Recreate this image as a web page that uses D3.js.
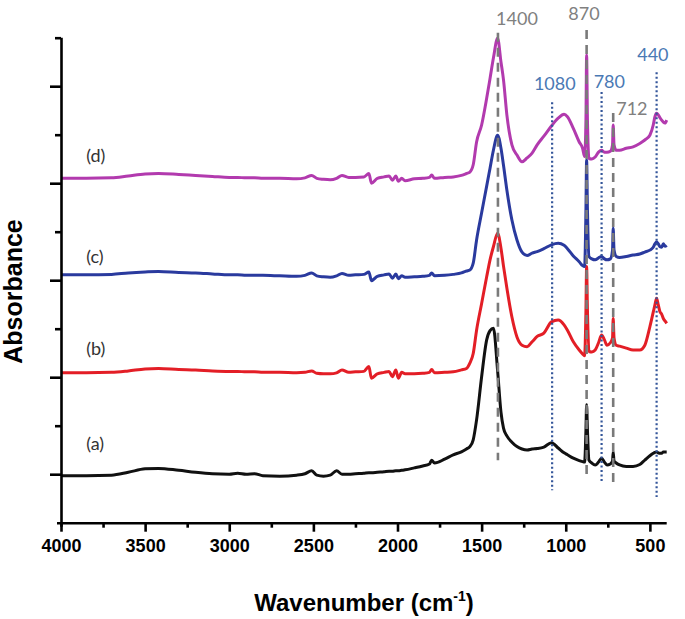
<!DOCTYPE html>
<html>
<head>
<meta charset="utf-8">
<script src="https://cdn.jsdelivr.net/npm/d3@7"></script>
<style>
  html, body { margin: 0; padding: 0; background: #fff; }
  svg { display: block; }
</style>
</head>
<body>
<svg id="chart" width="685" height="619"></svg>
<script>
// ---------------- DATA ----------------
const wavenumbers = [
  4000, 3850, 3700, 3600, 3500, 3420, 3300, 3200, 3100, 3000,
  2950, 2900, 2850, 2800, 2700, 2600, 2550, 2510, 2480, 2440,
  2400, 2362, 2330, 2290, 2250, 2200, 2170, 2155, 2120, 2080,
  2050, 2030, 2010, 1995, 1975, 1955, 1900, 1850, 1810, 1797,
  1780, 1720, 1669, 1620, 1590,
  1570, 1550, 1530, 1500, 1470, 1450, 1430, 1405, 1385, 1370,
  1350, 1320, 1290, 1260, 1230, 1200, 1170, 1130, 1085, 1045,
  1010, 990, 955, 920, 900, 888, 880, 876, 871, 862,
  845, 825, 805, 787, 770, 755, 735, 722, 718, 713,
  700, 680, 640, 600, 560, 530, 500, 480, 470, 460,
  450, 440, 430, 420, 410, 400
];

const absA = [
  0.97, 0.97, 0.98, 1.04, 1.11, 1.12, 1.08, 1.04, 1.01, 1.00,
  1.02, 1.00, 1.01, 0.97, 0.96, 0.98, 1.01, 1.07, 0.98, 0.96,
  0.98, 1.07, 1.00, 1.00, 1.01, 1.02, 1.03, 1.03, 1.04, 1.05,
  1.06, 1.06, 1.07, 1.07, 1.08, 1.09, 1.13, 1.17, 1.21, 1.29,
  1.23, 1.31, 1.40, 1.46, 1.52,
  1.57, 1.71, 2.12, 3.01, 3.77, 3.96, 4.01, 3.13, 2.28, 1.95,
  1.79, 1.66, 1.57, 1.52, 1.50, 1.52, 1.53, 1.56, 1.65, 1.54,
  1.44, 1.40, 1.33, 1.28, 1.26, 1.25, 1.91, 2.43, 1.91, 1.29,
  1.23, 1.19, 1.25, 1.33, 1.25, 1.19, 1.21, 1.27, 1.46, 1.27,
  1.23, 1.19, 1.16, 1.16, 1.20, 1.29, 1.38, 1.43, 1.45, 1.46,
  1.44, 1.43, 1.43, 1.46, 1.46, 1.46
];

const absB = [
  3.09, 3.09, 3.10, 3.13, 3.17, 3.18, 3.16, 3.15, 3.13, 3.12,
  3.12, 3.11, 3.11, 3.10, 3.10, 3.09, 3.10, 3.13, 3.08, 3.07,
  3.07, 3.09, 3.15, 3.10, 3.11, 3.12, 3.22, 2.98, 3.07, 3.10,
  3.12, 3.01, 3.15, 2.98, 3.10, 3.07, 3.07, 3.08, 3.10, 3.16,
  3.09, 3.10, 3.11, 3.15, 3.18,
  3.29, 3.49, 3.97, 4.52, 5.07, 5.42, 5.69, 5.97, 5.66, 5.29,
  4.84, 4.24, 3.83, 3.66, 3.63, 3.73, 3.84, 3.91, 4.14, 4.18,
  4.08, 3.97, 3.73, 3.56, 3.48, 3.44, 4.38, 5.28, 4.38, 3.53,
  3.52, 3.56, 3.71, 3.87, 3.77, 3.66, 3.71, 3.81, 4.21, 3.81,
  3.66, 3.64, 3.60, 3.56, 3.56, 3.66, 4.04, 4.34, 4.49, 4.63,
  4.49, 4.35, 4.30, 4.21, 4.16, 4.11
];

const absC = [
  5.11, 5.11, 5.12, 5.15, 5.17, 5.18, 5.16, 5.15, 5.13, 5.11,
  5.11, 5.10, 5.10, 5.10, 5.09, 5.08, 5.10, 5.15, 5.09, 5.07,
  5.06, 5.09, 5.14, 5.10, 5.11, 5.12, 5.17, 4.99, 5.08, 5.11,
  5.13, 5.04, 5.13, 5.03, 5.09, 5.06, 5.07, 5.08, 5.10, 5.15,
  5.09, 5.10, 5.12, 5.15, 5.19,
  5.21, 5.35, 5.83, 6.39, 6.94, 7.31, 7.68, 7.99, 7.72, 7.37,
  6.86, 6.24, 5.83, 5.58, 5.51, 5.56, 5.59, 5.65, 5.73, 5.76,
  5.72, 5.65, 5.50, 5.38, 5.30, 5.28, 6.45, 7.48, 6.45, 5.49,
  5.44, 5.42, 5.46, 5.49, 5.44, 5.42, 5.44, 5.62, 6.07, 5.62,
  5.49, 5.47, 5.49, 5.52, 5.54, 5.58, 5.62, 5.68, 5.75, 5.79,
  5.75, 5.69, 5.68, 5.75, 5.70, 5.72
];

const absD = [
  7.10, 7.10, 7.11, 7.15, 7.19, 7.20, 7.18, 7.16, 7.14, 7.12,
  7.12, 7.11, 7.11, 7.10, 7.10, 7.09, 7.11, 7.16, 7.10, 7.08,
  7.07, 7.10, 7.16, 7.12, 7.12, 7.13, 7.20, 7.00, 7.10, 7.13,
  7.15, 7.06, 7.15, 7.04, 7.10, 7.05, 7.09, 7.10, 7.12, 7.17,
  7.10, 7.12, 7.13, 7.16, 7.20,
  7.23, 7.38, 7.85, 8.20, 8.75, 9.16, 9.58, 9.99, 9.50, 9.13,
  8.41, 7.79, 7.58, 7.44, 7.52, 7.62, 7.79, 7.97, 8.18, 8.34,
  8.42, 8.37, 8.13, 7.85, 7.72, 7.55, 8.30, 9.64, 8.30, 7.51,
  7.50, 7.54, 7.64, 7.68, 7.64, 7.64, 7.66, 7.79, 8.20, 7.79,
  7.68, 7.68, 7.72, 7.75, 7.82, 7.89, 7.99, 8.20, 8.37, 8.44,
  8.41, 8.35, 8.30, 8.26, 8.24, 8.30
];

const seriesLabels = ["(a)", "(b)", "(c)", "(d)"];
const seriesLabelY = [1.50, 3.45, 5.35, 7.44];   // absorbance at label baseline
const seriesLabelX = 3850;                        // wavenumber at label start

const xMajorTicks = [4000, 3500, 3000, 2500, 2000, 1500, 1000, 500];
const xMinorTicks = [3750, 3250, 2750, 2250, 1750, 1250, 750];
const yMajorTicks = [1, 3, 5, 7, 9];
const yMinorTicks = [2, 4, 6, 8, 10];

// band markers
const bandLabels   = ["1400", "870", "712", "1080", "780", "440"];
const bandPos      = [1403, 876, 718, 1081, 787, 460];
const bandTop      = [10.10, 10.16, 8.45, 8.67, 8.88, 9.29];
const bandBottom   = [1.29, 0.94, 0.82, 0.67, 0.84, 0.53];
const bandLabelX   = [1290, 892, 607, 1065, 741, 482];
const bandLabelY   = [10.26, 10.36, 8.41, 8.92, 8.96, 9.52];
const bandKind     = ["dash", "dash", "dash", "dot", "dot", "dot"];

// ---------------- STYLES ----------------
const seriesColors = ["#111111", "#e31e26", "#2a3a9e", "#b23aae"];
const dashColor = "#7a7a7a";
const dotColor = "#34569a";
const grayText = "#808080";
const blueText = "#4a79b4";

// ---------------- DRAW ----------------
const svg = d3.select("#chart");
const x = d3.scaleLinear().domain([4000, 400]).range([61, 666.7]);
const y = d3.scaleLinear().domain([0, 10]).range([522.7, 37.7]);

const series = [absA, absB, absC, absD].map(vals =>
  wavenumbers.map((w, i) => ({ w: w, v: vals[i] })));

const line = d3.line()
  .x(d => x(d.w))
  .y(d => y(d.v))
  .curve(d3.curveMonotoneX);

const gSeries = svg.append("g");
series.forEach((s, i) => {
  gSeries.append("path")
    .datum(s)
    .attr("d", line)
    .attr("fill", "none")
    .attr("stroke", seriesColors[i])
    .attr("stroke-width", 3)
    .attr("stroke-linejoin", "round");
});

// series labels
svg.append("g").selectAll("text")
  .data(seriesLabels)
  .join("text")
  .attr("x", x(seriesLabelX))
  .attr("y", (d, i) => y(seriesLabelY[i]))
  .style("font-family", "Lato, 'Open Sans', sans-serif")
  .style("font-size", "18px")
  .style("fill", "#333")
  .text(d => d);

// band markers
const gBands = svg.append("g");
bandLabels.forEach((lab, i) => {
  const isDash = bandKind[i] === "dash";
  gBands.append("line")
    .attr("x1", x(bandPos[i])).attr("x2", x(bandPos[i]))
    .attr("y1", y(bandTop[i])).attr("y2", y(bandBottom[i]))
    .attr("stroke", isDash ? dashColor : dotColor)
    .attr("stroke-width", isDash ? 2.6 : 2.2)
    .attr("stroke-dasharray", isDash ? "9,6" : "2,2.5");
  gBands.append("text")
    .attr("x", x(bandLabelX[i]))
    .attr("y", y(bandLabelY[i]))
    .attr("text-anchor", "middle")
    .style("font-family", "Lato, 'Open Sans', sans-serif")
    .style("font-size", "18px")
    .style("fill", isDash ? grayText : blueText)
    .text(lab);
});

// axes
const axisFont = "'Liberation Sans', Arial, sans-serif";
const xAxis = svg.append("g")
  .attr("transform", `translate(0,${y(0)})`)
  .call(d3.axisBottom(x).tickValues(xMajorTicks).tickSize(9).tickPadding(8)
    .tickSizeOuter(0).tickFormat(d3.format("d")));
svg.append("g")
  .attr("transform", `translate(0,${y(0)})`)
  .call(d3.axisBottom(x).tickValues(xMinorTicks).tickSize(5).tickFormat("").tickSizeOuter(0))
  .call(g => g.select(".domain").remove());

xAxis.select(".domain")
  .attr("d", `M${x(4000) - 4},0.5H${x(400)}`);
xAxis.selectAll("text")
  .style("font-family", axisFont)
  .style("font-weight", "bold")
  .style("font-size", "18px")
  .style("fill", "#000");

const yAxis = svg.append("g")
  .attr("transform", `translate(${x(4000)},0)`)
  .call(d3.axisLeft(y).tickValues(yMajorTicks).tickSize(11).tickFormat("").tickSizeOuter(0));
svg.append("g")
  .attr("transform", `translate(${x(4000)},0)`)
  .call(d3.axisLeft(y).tickValues(yMinorTicks).tickSize(6).tickFormat("").tickSizeOuter(0))
  .call(g => g.select(".domain").remove());
yAxis.select(".domain").attr("d", `M0.5,${y(10)}V${y(0) + 4}`);

svg.selectAll(".domain, .tick line")
  .attr("stroke", "#000")
  .attr("stroke-width", 2.6);

// axis titles
const xt = svg.append("text")
  .attr("x", 364)
  .attr("y", 611)
  .attr("text-anchor", "middle")
  .style("font-family", axisFont)
  .style("font-weight", "bold")
  .style("font-size", "24px")
  .style("fill", "#000");
xt.append("tspan").text("Wavenumber (cm");
xt.append("tspan").style("font-size", "14px").attr("dy", -10).text("-1");
xt.append("tspan").attr("dy", 10).text(")");

svg.append("text")
  .attr("transform", "translate(21.5,291.5) rotate(-90)")
  .attr("text-anchor", "middle")
  .style("font-family", axisFont)
  .style("font-weight", "bold")
  .style("font-size", "25px")
  .style("fill", "#000")
  .text("Absorbance");
</script>
</body>
</html>
